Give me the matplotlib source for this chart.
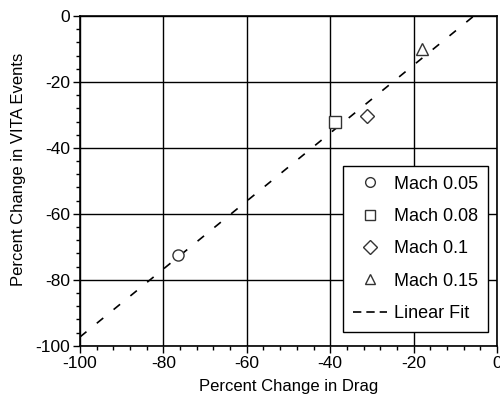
import matplotlib
matplotlib.use("Agg")
import matplotlib.pyplot as plt
import numpy as np
from matplotlib.ticker import MultipleLocator

plt.rcParams['font.family'] = ['Liberation Sans', 'DejaVu Sans']
plt.rcParams['axes.unicode_minus'] = False

labels = ["Mach 0.05", "Mach 0.08", "Mach 0.1", "Mach 0.15"]
markers = ["o", "s", "D", "^"]
drag_change = [-76.5, -38.8, -31.2, -18.0]
vita_change = [-72.4, -32.1, -30.3, -10.0]
fit_slope = 1.03
fit_intercept = 5.7

fig = plt.figure(figsize=(5, 3.98), dpi=100)
ax = fig.add_axes([0.16, 0.131, 0.834, 0.829])

for lab, mk, x, y in zip(labels, markers, drag_change, vita_change):
    ms = 7 if mk == "D" else 8
    ax.plot([x], [y], linestyle="none", marker=mk, markersize=ms,
            markerfacecolor="white", markeredgecolor="#333333",
            markeredgewidth=1.0, label=lab, zorder=3)

xfit = np.array([-100.0, 0.0])
ax.plot(xfit, fit_slope * xfit + fit_intercept, color="black",
        linestyle=(0, (5, 8)), linewidth=1.2, label="Linear Fit", zorder=2)

ax.set_xlim(-100, 0)
ax.set_ylim(-100, 0)
ax.xaxis.set_major_locator(MultipleLocator(20))
ax.yaxis.set_major_locator(MultipleLocator(20))
ax.xaxis.set_minor_locator(MultipleLocator(4))
ax.yaxis.set_minor_locator(MultipleLocator(4))
ax.tick_params(which="both", direction="out", labelsize=12.5, width=1)
ax.tick_params(which="major", length=5, pad=2)
ax.tick_params(which="minor", length=3)
ax.grid(True, which="major", color="black", linewidth=1.0)
for s in ax.spines.values():
    s.set_linewidth(1.2)

ax.set_xlabel("Percent Change in Drag", fontsize=12)
ax.xaxis.set_label_coords(0.5, -0.1)
ax.set_ylabel("Percent Change in VITA Events", fontsize=12)
ax.yaxis.set_label_coords(-0.13, 0.535)

leg = ax.legend(loc="lower right", bbox_to_anchor=(0.978, 0.042), fontsize=13,
                fancybox=False, framealpha=1, edgecolor="black",
                handlelength=1.9, handletextpad=0.35, labelspacing=0.85,
                borderpad=0.55, borderaxespad=0)
leg.get_frame().set_linewidth(1.0)
for h in leg.get_lines():
    if h.get_linestyle() != "None":
        h.set_dashes((5, 3))
    else:
        h.set_markersize(7)

fig.savefig("out.png", dpi=100)
